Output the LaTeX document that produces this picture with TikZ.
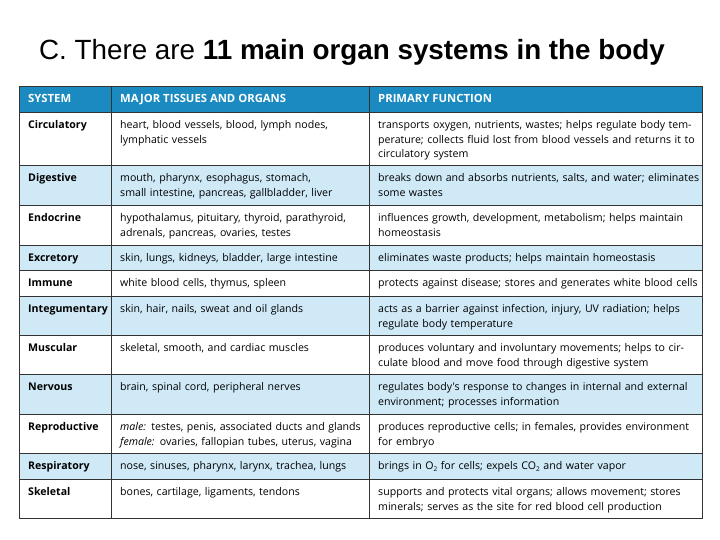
\documentclass[tikz,border=0pt]{standalone}
\usepackage{fontspec}
\setmainfont{Liberation Sans}
\newfontfamily\cellfont{Open Sans}
\definecolor{hdr}{HTML}{1A8AC0}
\definecolor{lb}{HTML}{CFE9F7}
\definecolor{grid}{HTML}{333333}
\newcommand{\sub}[1]{\raisebox{-2pt}{\fontsize{6.5}{6.5}\selectfont #1}}
\begin{document}
\begin{tikzpicture}[x=1pt,y=-1pt,
  cell/.style={anchor=north west,inner sep=0pt,align=left,font=\cellfont\fontsize{10.6}{14.5}\selectfont,text=black},
  c1/.style={cell,text width=88pt},
  c2/.style={cell,text width=250pt},
  c3/.style={cell,text width=322pt},
  hd/.style={cell,text=white,font=\cellfont\bfseries\fontsize{11.3}{14}\selectfont}]
\useasboundingbox (0,0) rectangle (720,540);
\fill[white] (0,0) rectangle (720,540);
\node[font=\fontsize{27.8}{30}\selectfont,anchor=center] (title) at (352,52) {C. There are \textbf{11 main organ systems in the body}};
% fills
\fill[hdr] (19,86) rectangle (702,112);
\foreach \a/\b in {165/205,245/270,296/335,374/414,453/479}{\fill[lb] (19,\a) rectangle (702,\b);}
% grid
\draw[grid,line width=0.8pt] (19,86) rectangle (702,518);
\foreach \y in {112,165,205,245,270,296,335,374,414,453,479}{\draw[grid,line width=0.6pt] (19,\y) -- (702,\y);}
\draw[grid,line width=0.8pt] (111,86) -- (111,518);
\draw[grid,line width=0.8pt] (369,86) -- (369,518);
% header
\node[hd] (h1) at (28,94) {SYSTEM};
\node[hd] (h2) at (120,94) {MAJOR TISSUES AND ORGANS};
\node[hd] (h3) at (378,94) {PRIMARY FUNCTION};
% rows
\newcommand{\row}[5]{\node[c1] (s#1) at (28,#2+8.5) {\textbf{#3}};\node[c2] (t#1) at (120,#2+8.5) {#4};\node[c3] (f#1) at (378,#2+8.5) {#5};}
\row{1}{112}{Circulatory}{heart, blood vessels, blood, lymph nodes,\\lymphatic vessels}{transports oxygen, nutrients, wastes; helps regulate body tem-\\perature; collects fluid lost from blood vessels and returns it to\\circulatory system}
\row{2}{165}{Digestive}{mouth, pharynx, esophagus, stomach,\\small intestine, pancreas, gallbladder, liver}{breaks down and absorbs nutrients, salts, and water; eliminates\\some wastes}
\row{3}{205}{Endocrine}{hypothalamus, pituitary, thyroid, parathyroid,\\adrenals, pancreas, ovaries, testes}{influences growth, development, metabolism; helps maintain\\homeostasis}
\row{4}{245}{Excretory}{skin, lungs, kidneys, bladder, large intestine}{eliminates waste products; helps maintain homeostasis}
\row{5}{270}{Immune}{white blood cells, thymus, spleen}{protects against disease; stores and generates white blood cells}
\row{6}{296}{Integumentary}{skin, hair, nails, sweat and oil glands}{acts as a barrier against infection, injury, UV radiation; helps\\regulate body temperature}
\row{7}{335}{Muscular}{skeletal, smooth, and cardiac muscles}{produces voluntary and involuntary movements; helps to cir-\\culate blood and move food through digestive system}
\row{8}{374}{Nervous}{brain, spinal cord, peripheral nerves}{regulates body's response to changes in internal and external\\environment; processes information}
\row{9}{414}{Reproductive}{\textit{male:} testes, penis, associated ducts and glands\\\textit{female:} ovaries, fallopian tubes, uterus, vagina}{produces reproductive cells; in females, provides environment\\for embryo}
\row{10}{453}{Respiratory}{nose, sinuses, pharynx, larynx, trachea, lungs}{brings in O\sub{2} for cells; expels CO\sub{2} and water vapor}
\row{11}{479}{Skeletal}{bones, cartilage, ligaments, tendons}{supports and protects vital organs; allows movement; stores\\minerals; serves as the site for red blood cell production}
\end{tikzpicture}
\end{document}
